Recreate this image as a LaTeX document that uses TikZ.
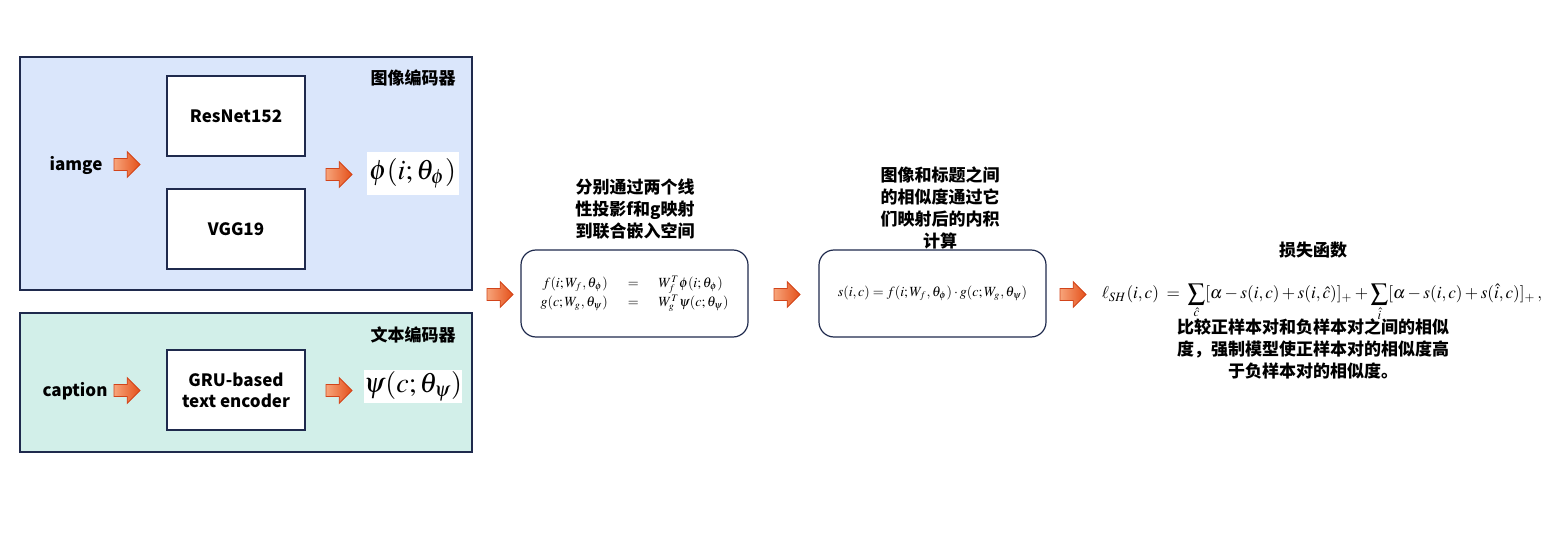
\documentclass[tikz,border=0pt]{standalone}
\usepackage{mathptmx}
\usepackage{fontspec}
\setmainfont{Noto Sans CJK SC}
\usetikzlibrary{shapes.arrows}
\definecolor{navy}{HTML}{1F2A4D}
\definecolor{panelblue}{HTML}{DAE6FB}
\definecolor{panelgreen}{HTML}{D2EFE9}
\definecolor{arrowlight}{HTML}{F7A47A}
\definecolor{arrowdark}{HTML}{E4501A}
\definecolor{arrowline}{HTML}{D2441A}

\begin{document}
\begin{tikzpicture}[x=0.5pt,y=-0.5pt,panel/.style={draw=navy,line width=0.6pt},module/.style={draw=navy,fill=white,line width=0.6pt,minimum width=69pt,minimum height=40pt,inner sep=0pt,align=center,font=\fontsize{8.5}{10.5}\selectfont\bfseries},rbox/.style={draw=navy,fill=white,line width=0.6pt,rounded corners=7.5pt,minimum width=113.5pt,minimum height=43.5pt,inner sep=0pt},label/.style={font=\fontsize{8.5}{10.5}\selectfont\bfseries},note/.style={align=center,font=\fontsize{8.5}{11}\selectfont\bfseries},feat/.style={fill=white,inner sep=0pt,minimum width=46pt,font=\fontsize{14}{17}\selectfont},go/.style={single arrow,single arrow head extend=3.4pt,inner sep=2.8pt,minimum height=13pt,draw=arrowline,line width=0.4pt,left color=arrowlight,right color=arrowdark}]
\useasboundingbox (0,0) rectangle (1568,545);
% encoders
\draw[panel,fill=panelblue] (20,57) rectangle (472,290);
\draw[panel,fill=panelgreen] (20,313) rectangle (472,452);
\node[label] (imgenc) at (413,78) {图像编码器};
\node[label] (txtenc) at (413,335) {文本编码器};
\node[module] (resnet) at (236,116) {ResNet152};
\node[module] (vgg) at (236,229) {VGG19};
\node[module] (gru) at (236,390) {GRU-based\\text encoder};
\node[label] (image) at (76,165) {iamge};
\node[label] (caption) at (75,391) {caption};
\node[go] (a1) at (124,164.5) {};
\node[go] (a2) at (336,174.5) {};
\node[go] (a3) at (124,390.5) {};
\node[go] (a4) at (336,390.5) {};
\node[feat,minimum height=21.5pt] (phi) at (412.5,173.5) {$\phi(i;\theta_\phi)$};
\node[feat,minimum height=16.5pt] (psi) at (413,386.5) {$\psi(c;\theta_\psi)$};
% joint embedding
\node[go] (a5) at (497,294.5) {};
\node[note] (projtxt) at (635,209) {分别通过两个线\\性投影f和g映射\\到联合嵌入空间};
\node[rbox,font=\fontsize{7}{9}\selectfont] (proj) at (634.5,293.5) {$\begin{array}{rcl}f(i;W_f,\theta_\phi) & = & W_f^T\phi(i;\theta_\phi)\\ g(c;W_g,\theta_\psi) & = & W_g^T\psi(c;\theta_\psi)\end{array}$};
% similarity
\node[go] (a6) at (784,294.5) {};
\node[note] (simtxt) at (940,208) {图像和标题之间\\的相似度通过它\\们映射后的内积\\计算};
\node[rbox,font=\fontsize{7}{9}\selectfont] (sim) at (932.5,293.5) {$s(i,c)=f(i;W_f,\theta_\phi)\cdot g(c;W_g,\theta_\psi)$};
% loss
\node[go] (a7) at (1070,294.5) {};
\node[label] (losstitle) at (1313,250) {损失函数};
\node[anchor=base,inner sep=0pt,font=\fontsize{8.6}{10}\selectfont] (loss) at (1322,299) {$\displaystyle\ell_{SH}(i,c)\;=\;\sum_{\hat c}[\alpha-s(i,c)+s(i,\hat c)]_+ +\sum_{\hat i}[\alpha-s(i,c)+s(\hat i,c)]_+\,,$};
\node[note] (losstxt) at (1313,349) {比较正样本对和负样本对之间的相似\\度，强制模型使正样本对的相似度高\\于负样本对的相似度。};
\end{tikzpicture}
\end{document}
